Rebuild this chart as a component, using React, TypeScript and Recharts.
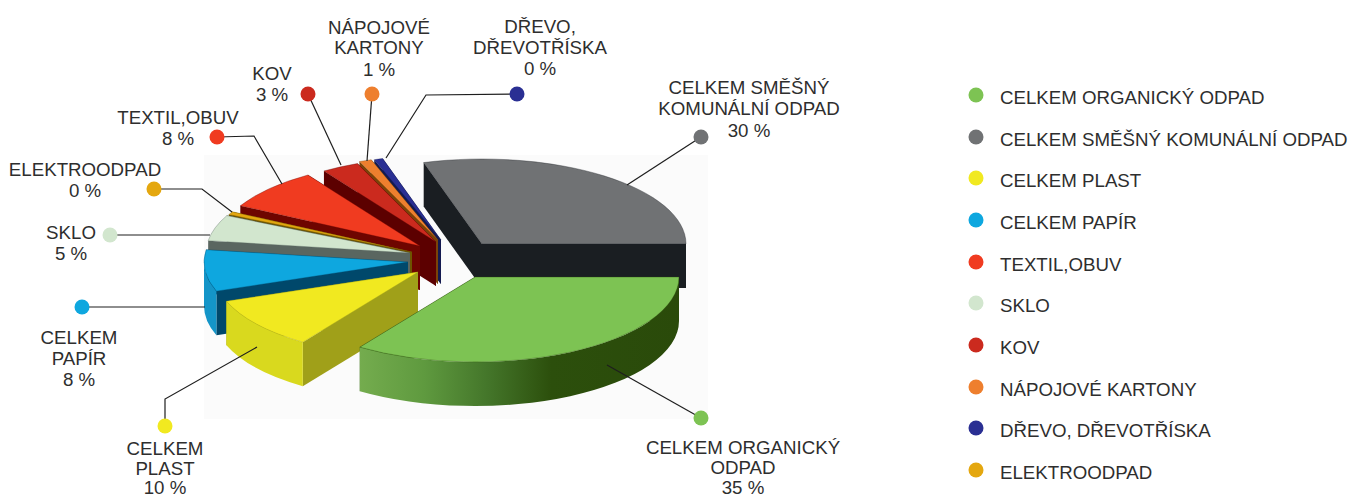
import React from "react";
import { PieChart, Pie, Legend } from "recharts";

// Data, in drawing order (back of the pie to front)
const categories = [
  "CELKEM SMĚŠNÝ KOMUNÁLNÍ ODPAD",
  "DŘEVO, DŘEVOTŘÍSKA",
  "NÁPOJOVÉ KARTONY",
  "KOV",
  "TEXTIL,OBUV",
  "ELEKTROODPAD",
  "SKLO",
  "CELKEM PAPÍR",
  "CELKEM PLAST",
  "CELKEM ORGANICKÝ ODPAD",
];
const values = [30, 0.7, 1, 3, 8, 0.6, 5, 8, 10, 35];
const percentLabels = ["30 %", "0 %", "1 %", "3 %", "8 %", "0 %", "5 %", "8 %", "10 %", "35 %"];
const legendOrder = [
  "CELKEM ORGANICKÝ ODPAD",
  "CELKEM SMĚŠNÝ KOMUNÁLNÍ ODPAD",
  "CELKEM PLAST",
  "CELKEM PAPÍR",
  "TEXTIL,OBUV",
  "SKLO",
  "KOV",
  "NÁPOJOVÉ KARTONY",
  "DŘEVO, DŘEVOTŘÍSKA",
  "ELEKTROODPAD",
];
const calloutLines = [
  ["CELKEM SMĚŠNÝ", "KOMUNÁLNÍ ODPAD"],
  ["DŘEVO,", "DŘEVOTŘÍSKA"],
  ["NÁPOJOVÉ", "KARTONY"],
  ["KOV"],
  ["TEXTIL,OBUV"],
  ["ELEKTROODPAD"],
  ["SKLO"],
  ["CELKEM", "PAPÍR"],
  ["CELKEM", "PLAST"],
  ["CELKEM ORGANICKÝ", "ODPAD"],
];

const tableData = categories.map((name, i) => ({ name, value: values[i] }));

// Styles and layout, separate from data
const topColors = ["#707274", "#2A2F93", "#EE7F2E", "#CB2A1E", "#F03B20", "#E4A70F", "#D2E6CE", "#0EA7DF", "#F1E920", "#7DC353"];
const faceColors = ["#1A1E22", "#141A50", "#7A4308", "#5C0000", "#6E0500", "#6E5500", "#5A6660", "#00486B", "#A0A019", "#2A4A0C"];
const wallColors = ["#1A1E22", "#141A50", "#7A4308", "#5C0000", "#6E0500", "#6E5500", "#5A6660", "#1495C8", "#D9D91E", "url(#greenWall)"];
const explodeX = [42, 1, -2, -4, -20, -28, -30, -32, -22, 35];
const explodeY = [-6, -10, -10, -8, -4, 2, 3, 12, 22, 27];
const SQUASH = 85 / 204;
const DEPTH = 44;
const TEXT = "#2E2E2E";
const FONT = "'Liberation Sans', Arial, sans-serif";
const FS = 18.7;

// leader polyline; first point is the dot
const leaders: number[][][] = [
  [[701, 137], [627, 185]],
  [[517, 94], [426, 95], [386, 158]],
  [[372, 94], [367, 161]],
  [[308, 94], [341, 165]],
  [[217, 137], [254, 136], [282, 184]],
  [[154, 189], [202, 189], [232, 212]],
  [[110, 235], [210, 235]],
  [[82, 307], [205, 307]],
  [[165, 426], [165, 399], [257, 347]],
  [[701, 418], [607, 365]],
];
const labelCx = [749, 540, 379, 272, 178, 85, 71, 79, 165, 743];
const labelY = [[87, 108, 130], [26, 47, 68], [27, 47, 69], [73, 94], [117, 138], [169, 190], [232, 253], [337, 358, 379], [448, 468, 487], [447, 467, 487]];

function Slice3D(props: any) {
  const { cx, cy, outerRadius, startAngle, endAngle, index } = props;
  const rx = outerRadius;
  const ry = outerRadius * SQUASH;
  const ax = cx + explodeX[index];
  const ay = cy + explodeY[index];
  const pt = (deg: number) => {
    const r = (deg * Math.PI) / 180;
    return [ax + rx * Math.cos(r), ay - ry * Math.sin(r)];
  };
  const [sx, sy] = pt(startAngle);
  const [ex, ey] = pt(endAngle);
  const large = endAngle - startAngle > 180 ? 1 : 0;
  const top = `M${ax},${ay} L${sx},${sy} A${rx},${ry} 0 ${large} 0 ${ex},${ey} Z`;
  const face = (x: number, y: number) => `M${ax},${ay} L${x},${y} L${x},${y + DEPTH} L${ax},${ay + DEPTH} Z`;
  const wa = Math.max(startAngle, 180);
  const wb = Math.min(endAngle, 360);
  let wall = null;
  if (wb > wa) {
    const [px, py] = pt(wa);
    const [qx, qy] = pt(wb);
    wall = `M${px},${py} A${rx},${ry} 0 0 0 ${qx},${qy} L${qx},${qy + DEPTH} A${rx},${ry} 0 0 1 ${px},${py + DEPTH} Z`;
  }
  return (
    <g>
      <defs>
        <linearGradient id="greenWall" x1="0" y1="0" x2="1" y2="0">
          <stop offset="0" stopColor="#74AC4E" />
          <stop offset="0.2" stopColor="#5F9A3F" />
          <stop offset="0.4" stopColor="#44762A" />
          <stop offset="0.6" stopColor="#2C4F0C" />
          <stop offset="1" stopColor="#2A4A0A" />
        </linearGradient>
      </defs>
      <path d={face(sx, sy)} fill={faceColors[index]} />
      <path d={face(ex, ey)} fill={faceColors[index]} />
      {wall && <path d={wall} fill={wallColors[index]} />}
      <path d={top} fill={topColors[index]} stroke={faceColors[index]} strokeOpacity={0.5} strokeWidth={0.7} />
    </g>
  );
}

function Callout(props: any) {
  const i = props.index;
  const pts = leaders[i];
  const [dx, dy] = pts[0];
  const lines = [...calloutLines[i], percentLabels[i]];
  return (
    <g>
      <polyline points={pts.map((p) => p.join(",")).join(" ")} fill="none" stroke="#1E1E1E" strokeWidth={1.2} />
      <circle cx={dx} cy={dy} r={7.5} fill={topColors[i]} />
      {lines.map((t, k) => (
        <text key={k} x={labelCx[i]} y={labelY[i][k] + 7} textAnchor="middle" fontFamily={FONT} fontSize={FS} fill={TEXT}>
          {t}
        </text>
      ))}
    </g>
  );
}

const legendRowY = [97, 139, 180, 222, 264, 305, 347, 389, 430, 472];

function LegendBox() {
  return (
    <svg width={400} height={497} style={{ display: "block" }}>
      {legendOrder.map((name, k) => (
        <g key={name}>
          <circle cx={26} cy={legendRowY[k] - 2} r={7.5} fill={topColors[categories.indexOf(name)]} />
          <text x={50} y={legendRowY[k] + 7} fontFamily={FONT} fontSize={FS} fill={TEXT}>
            {name}
          </text>
        </g>
      ))}
    </svg>
  );
}

export default function App() {
  return (
    <div style={{ position: "absolute", left: 0, top: 0, width: 1349, height: 497, background: "#fff", overflow: "hidden" }}>
      <div style={{ position: "absolute", left: 204, top: 155, width: 504, height: 264, background: "#FBFBFB" }} />
      <div style={{ position: "absolute", left: 0, top: 0 }}>
        <PieChart width={1349} height={497} margin={{ top: 0, right: 0, bottom: 0, left: 0 }}>
          <Pie
            data={tableData}
            dataKey="value"
            nameKey="name"
            cx={440}
            cy={250}
            outerRadius={204}
            innerRadius={0}
            startAngle={0}
            endAngle={360}
            paddingAngle={0}
            stroke="none"
            isAnimationActive={false}
            shape={Slice3D}
            label={Callout}
            labelLine={false}
          />
          <Legend content={LegendBox} wrapperStyle={{ position: "absolute", left: 950, top: 0, width: 400, height: 497, bottom: "auto", right: "auto" }} />
        </PieChart>
      </div>
    </div>
  );
}
